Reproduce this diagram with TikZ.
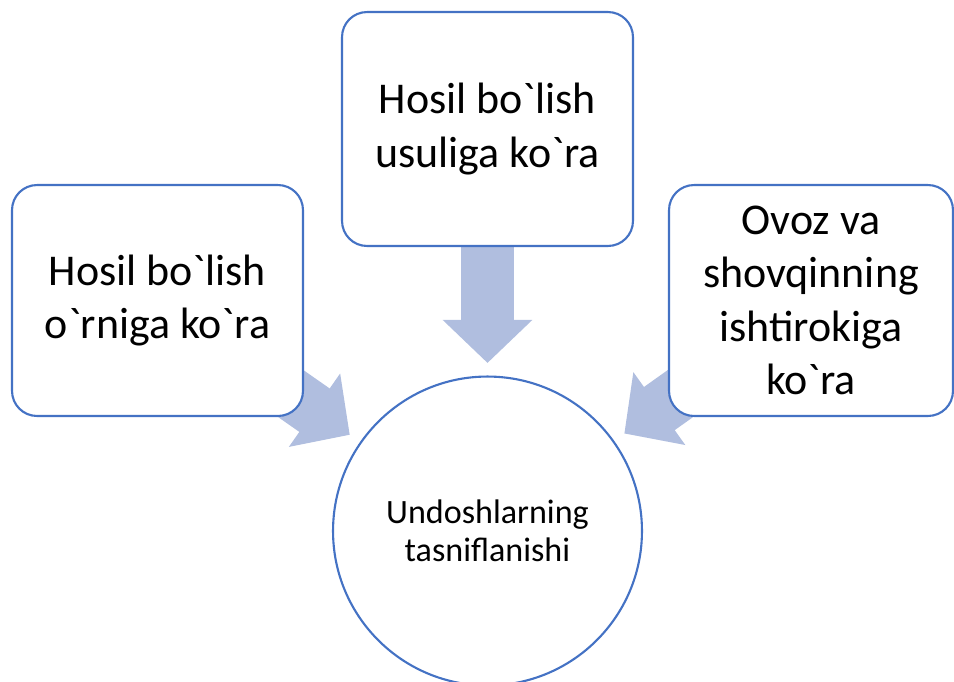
\documentclass[tikz,border=0pt]{standalone}
\usepackage{fontspec}
\setmainfont{Carlito}[Ligatures=TeXOff]
\usepackage{tikz}
\usetikzlibrary{arrows.meta}
\pgfdeclarelayer{bg}
\pgfsetlayers{bg,main}
\definecolor{boxblue}{HTML}{4472C4}
\definecolor{arrblue}{HTML}{B0BEDF}
\tikzset{
  box/.style={draw=boxblue, line width=1.2pt, fill=white, rounded corners=0.5cm,
    minimum width=5.82cm, align=center, font=\fontsize{25}{30.5}\selectfont},
  hub/.style={circle, draw=boxblue, line width=1.2pt, fill=white,
    minimum size=6.18cm, align=center, font=\fontsize{19.4}{21.8}\selectfont},
  blockarr/.style={arrblue, line width=1.06cm,
    -{Triangle[width=1.74cm,length=0.86cm]}, shorten >=0.25cm}
}
\newcommand{\gv}{\symbol{96}}
\begin{document}
\begin{tikzpicture}[x=0.02cm, y=-0.02cm]
        \useasboundingbox (0,0) rectangle (954,681);
        \node (hub) [hub] at (487.5, 531) {Undoshlarning\\tasniflanishi};
        \node (tbox) [box, minimum height=4.68cm] at (487.5, 129) {Hosil bo\gv lish\\usuliga ko\gv ra};
        \node (lbox) [box, minimum height=4.62cm] at (157.5, 300.5) {Hosil bo\gv lish\\o\gv rniga ko\gv ra};
        \node (rbox) [box, minimum height=4.62cm, minimum width=5.68cm] at (811, 300.5) {Ovoz va\\shovqinning\\ishtirokiga\\ko\gv ra};
        \begin{pgfonlayer}{bg}
                \draw (tbox.center) edge [blockarr] (hub);
                \draw (lbox.center) edge [blockarr] (hub);
                \draw (rbox.center) edge [blockarr] (hub);
        \end{pgfonlayer}
\end{tikzpicture}
\end{document}
